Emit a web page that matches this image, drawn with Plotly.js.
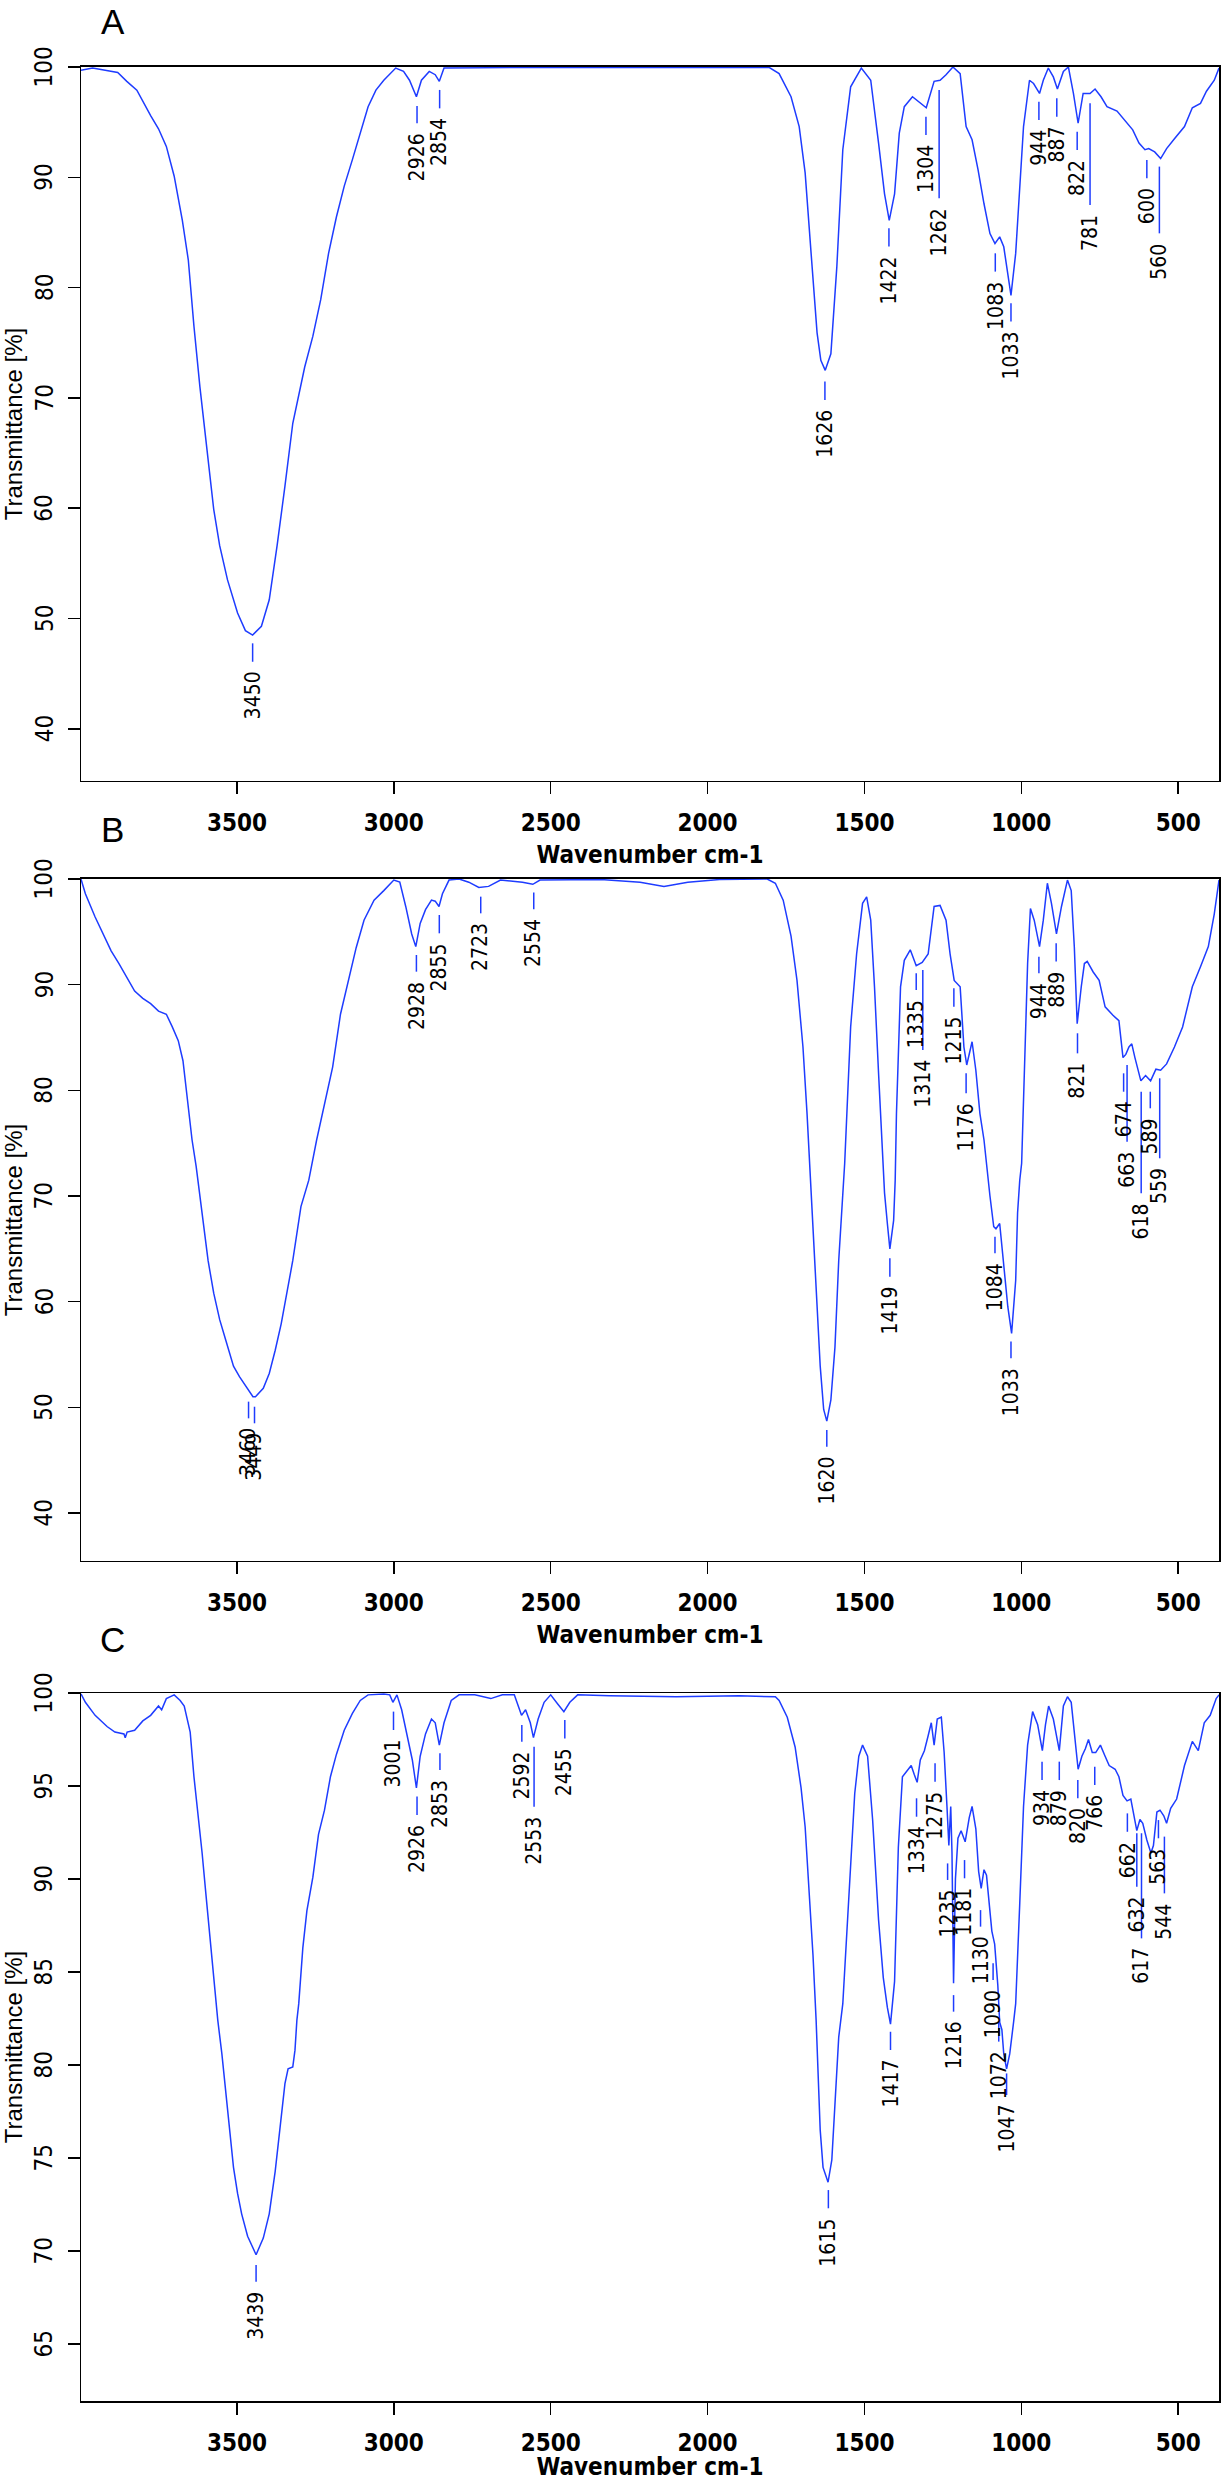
<!DOCTYPE html>
<html>
<head>
<meta charset="utf-8">
<script src="https://cdn.plot.ly/plotly-3.0.1.min.js"></script>
<style>
  body { margin: 0; background: #fff; }
  #myPlot { width: 1223px; height: 2481px; }
</style>
</head>
<body>
<div id="myPlot"></div>
<script>
/* FTIR spectra A, B, C - transmittance vs wavenumber */

// ---- panel A ----
var aWn = [3997,3960,3920,3880,3851,3819,3775,3750,3725,3700,3674,3655,3637,3618,3599,3586,3574,3555,3530,3498,3473,3450,3422,3397,3372,3347,3322,3284,3258,3233,3208,3183,3158,3132,3107,3082,3057,3032,2994,2969,2950,2928,2912,2887,2868,2855,2840,2600,2200,1803,1772,1734,1708,1689,1670,1651,1639,1625,1607,1588,1569,1544,1510,1480,1455,1436,1421,1404,1389,1373,1347,1328,1303,1278,1259,1240,1218,1195,1176,1157,1138,1119,1100,1084,1069,1056,1043,1033,1018,1005,993,974,961,942,930,914,898,885,866,850,834,819,803,781,765,746,727,695,670,645,625,606,594,575,556,537,512,480,455,429,410,385,370];
var aT  = [99.7,99.9,99.7,99.5,98.7,97.9,95.6,94.4,92.8,90.1,86.1,82.5,76.5,71.0,66.2,62.6,59.9,56.6,53.5,50.5,48.9,48.5,49.3,51.7,56.6,62.0,67.7,72.8,75.6,78.9,83.1,86.4,89.2,91.6,94.0,96.4,97.9,98.8,99.9,99.6,98.8,97.3,98.8,99.6,99.3,98.7,99.9,99.95,99.95,99.95,99.4,97.3,94.6,90.4,83.1,75.9,73.4,72.5,74.0,81.9,92.5,98.2,99.9,98.8,93.1,88.5,86.1,88.5,94.0,96.4,97.3,96.9,96.3,98.7,98.8,99.3,100,99.4,94.6,93.4,90.7,87.6,84.9,84.0,84.6,83.7,81.3,79.3,83.1,89.5,94.6,98.8,98.5,97.6,98.8,99.9,99.1,98.0,99.6,100,97.6,94.9,97.6,97.6,98.0,97.3,96.4,96.0,95.2,94.3,93.1,92.5,92.6,92.3,91.7,92.6,93.5,94.6,96.3,96.7,97.8,98.8,99.9];
var aPeaks = ["3450","2926","2854","1626","1422","1304","1262","1083","1033","944","887","822","781","600","560"];
var aTop   = [47.75,96.47,97.92,71.48,85.38,95.50,97.92,83.11,78.58,96.86,97.16,94.14,96.71,91.57,90.97];
var aBot   = [46.08,94.89,96.25,69.82,83.72,93.84,88.10,81.45,76.92,95.20,95.50,92.48,87.49,89.91,84.92];

// ---- panel B ----
var bWn = [3997,3983,3952,3927,3901,3876,3851,3826,3800,3775,3750,3725,3706,3687,3672,3656,3643,3630,3618,3611,3592,3574,3555,3536,3511,3492,3466,3449,3441,3416,3397,3378,3359,3340,3322,3296,3271,3246,3221,3195,3170,3145,3120,3095,3063,3032,3000,2981,2962,2943,2930,2916,2899,2880,2868,2856,2845,2824,2792,2761,2729,2698,2660,2590,2557,2534,2340,2215,2139,2063,1962,1810,1784,1759,1734,1715,1696,1683,1670,1662,1651,1641,1630,1620,1607,1594,1582,1569,1563,1544,1525,1506,1493,1480,1468,1455,1442,1436,1427,1419,1407,1402,1398,1385,1373,1354,1335,1316,1297,1278,1259,1240,1227,1214,1195,1183,1174,1157,1145,1132,1119,1107,1100,1088,1081,1069,1056,1043,1031,1018,1012,1005,999,989,980,971,959,942,930,917,904,888,872,853,841,831,822,809,799,790,771,752,733,708,689,676,667,657,648,638,619,604,588,571,556,537,512,486,455,429,404,385,370];
var bT  = [100,98.6,96.4,94.8,93.2,92.0,90.7,89.4,88.7,88.2,87.5,87.2,86.0,84.7,82.8,78.3,75.3,72.8,69.9,68.4,63.9,60.8,58.3,56.4,53.9,52.9,51.7,51.0,51.0,51.8,53.2,55.4,57.9,61.1,63.9,69.0,71.5,75.3,78.7,82.2,87.2,90.4,93.5,96.1,98.0,98.9,99.9,99.7,97.4,94.8,93.6,95.8,97.1,98.0,97.9,97.4,98.6,99.9,100,99.7,99.2,99.3,99.9,99.7,99.5,99.9,99.95,99.7,99.3,99.7,99.95,100,99.6,98.0,94.6,90.4,84.1,77.8,70.0,65.2,58.9,53.9,49.8,48.7,50.7,55.7,63.9,71.0,73.1,86.0,92.9,97.7,98.3,96.1,89.8,81.6,73.1,70.3,67.4,65.0,67.7,71.5,77.8,89.8,92.3,93.3,91.8,92.1,92.9,97.4,97.5,96.1,92.9,90.4,89.8,84.1,82.4,84.6,81.9,77.8,75.3,71.5,70.0,67.1,66.9,67.4,63.6,59.5,57.0,62.0,68.4,71.5,73.1,84.1,92.0,97.2,96.1,93.6,96.1,99.6,97.7,94.8,97.4,99.9,98.9,93.5,86.3,89.8,92.0,92.2,91.2,90.4,87.9,87.1,86.6,83.1,83.4,84.1,84.4,83.1,80.9,81.4,80.9,82.0,81.9,82.5,84.1,86.0,89.8,91.7,93.6,96.7,99.9];
var bPeaks = ["3460","3449","2928","2855","2723","2554","1620","1419","1335","1314","1215","1176","1084","1033","944","889","821","674","663","618","589","559"];
var bPos   = [3463,3444,2928,2855,2723,2554,1620,1419,1335,1314,1215,1176,1084,1033,944,889,821,674,663,618,589,559];
var bTop   = [50.54,50.06,92.81,96.59,98.33,98.71,47.86,64.10,91.07,91.39,89.65,81.61,66.15,56.22,92.65,93.91,85.40,81.61,82.40,79.87,79.87,81.14];
var bBot   = [48.96,48.49,91.23,94.86,96.75,97.13,46.28,62.37,89.50,83.82,87.92,79.72,64.58,54.64,91.07,92.18,83.50,79.87,75.14,70.25,78.30,73.57];

// ---- panel C ----
var cWn = [3997,3983,3952,3914,3889,3860,3856,3850,3826,3800,3775,3750,3740,3725,3700,3681,3668,3649,3637,3624,3611,3599,3586,3574,3561,3548,3536,3523,3511,3498,3485,3466,3439,3416,3397,3378,3359,3347,3337,3322,3315,3309,3303,3290,3277,3258,3240,3221,3202,3183,3158,3132,3107,3082,3032,3013,3003,2990,2975,2956,2941,2928,2916,2899,2880,2868,2855,2840,2817,2792,2742,2691,2654,2616,2603,2593,2580,2565,2555,2540,2521,2500,2477,2458,2439,2414,2313,2100,1900,1784,1772,1746,1721,1702,1689,1677,1664,1654,1648,1641,1632,1616,1604,1594,1582,1569,1550,1531,1518,1506,1490,1474,1455,1440,1427,1417,1404,1392,1379,1366,1351,1341,1332,1322,1309,1297,1287,1278,1268,1255,1246,1237,1231,1225,1221,1216,1210,1202,1192,1179,1166,1157,1145,1136,1128,1119,1111,1094,1085,1075,1069,1062,1056,1047,1037,1024,1018,1005,993,980,964,948,933,923,913,898,879,866,853,841,828,819,807,796,786,774,763,748,733,720,701,689,676,663,651,642,632,622,613,600,587,579,568,558,546,537,524,505,480,455,436,417,398,379,370];
var cT  = [99.95,99.5,98.8,98.2,97.9,97.8,97.6,97.9,98.0,98.5,98.8,99.3,99.1,99.7,99.9,99.6,99.3,97.9,95.5,93.5,91.4,89.2,86.9,84.6,82.4,80.6,78.5,76.3,74.5,73.1,72.0,70.8,69.8,70.7,72.0,74.3,77.0,79.0,79.8,79.9,80.8,82.4,83.3,86.3,88.3,90.1,92.4,93.7,95.5,96.7,98.0,98.9,99.6,99.9,99.95,99.9,99.5,99.9,99.1,97.5,96.4,94.9,96.6,97.8,98.6,98.4,97.2,98.4,99.6,99.9,99.9,99.7,99.9,99.9,99.3,98.8,99.1,98.4,97.6,98.6,99.5,99.9,99.4,99.0,99.5,99.9,99.85,99.8,99.85,99.8,99.6,98.7,97.1,94.9,92.8,89.5,85.9,82.4,79.7,76.5,74.5,73.7,74.9,78.0,81.5,83.3,89.0,94.6,96.6,97.2,96.6,93.2,87.8,84.7,83.1,82.2,84.5,91.7,95.5,95.8,96.1,95.6,95.2,96.4,96.9,97.7,98.4,97.2,98.6,98.7,96.8,93.9,91.8,93.9,91.4,84.4,90.0,92.2,92.6,92.0,93.3,93.9,92.7,90.4,89.5,90.5,90.2,87.2,86.5,84.3,82.3,81.9,80.6,79.8,80.6,82.4,83.3,88.7,93.9,97.2,99.0,98.3,96.9,98.3,99.3,98.6,96.9,99.3,99.8,99.5,97.2,95.9,96.6,97.0,97.5,96.8,96.8,97.2,96.6,96.1,95.9,95.5,94.5,94.2,94.3,93.4,92.6,93.2,93.0,92.1,91.4,91.8,93.6,93.7,93.4,93.0,93.8,94.3,96.1,97.4,96.9,98.4,98.8,99.7,99.9];
var cPeaks = ["3439","3001","2926","2853","2592","2553","2455","1615","1417","1334","1275","1235","1216","1181","1130","1090","1072","1047","934","879","820","766","662","632","617","563","544"];
var cTop   = [69.25,99.00,94.43,96.76,98.28,97.11,98.55,73.28,81.79,94.34,96.22,90.84,83.76,91.02,88.33,85.47,82.26,79.55,96.31,96.31,95.32,96.04,93.53,92.46,92.46,93.17,92.28];
var cBot   = [68.35,98.01,93.44,95.86,97.38,93.89,97.56,72.30,80.81,93.35,95.23,89.95,82.87,90.04,87.44,84.57,81.26,78.39,95.32,95.32,94.34,95.05,92.54,89.59,86.81,92.19,89.23];

var xTicks = [3500, 3000, 2500, 2000, 1500, 1000, 500];
var yTicksA = [40, 50, 60, 70, 80, 90, 100];
var yTicksC = [65, 70, 75, 80, 85, 90, 95, 100];

var BLUE = "rgb(30,60,255)";
var NARROW = '"Liberation Sans Narrow", "Arial Narrow", "DejaVu Sans Condensed", sans-serif';
var REG = '"Liberation Sans", Arial, sans-serif';

var data = [];
var shapes = [];
var annotations = [];

function addPanel(xa, ya, wn, t, labels, pos, tops, bots, yticks) {
  data.push({x: wn, y: t, xaxis: xa, yaxis: ya, type: "scatter", mode: "lines",
             line: {color: BLUE, width: 1.5}, hoverinfo: "skip"});
  for (var i = 0; i < labels.length; i++) {
    var px = pos ? pos[i] : parseFloat(labels[i]);
    shapes.push({type: "line", xref: xa, yref: ya, x0: px, x1: px, y0: tops[i], y1: bots[i],
                 line: {color: BLUE, width: 1.5}});
    annotations.push({x: px, y: bots[i], xref: xa, yref: ya, text: labels[i], showarrow: false,
                      textangle: -90, xanchor: "center", yanchor: "top", yshift: -8,
                      font: {family: NARROW, size: 21, color: "#000"}});
  }
  // vertical tick labels on the y axis
  for (var j = 0; j < yticks.length; j++) {
    annotations.push({x: -0.0321, y: yticks[j], xref: "paper", yref: ya, text: String(yticks[j]),
                      showarrow: false, textangle: -90, xanchor: "center", yanchor: "middle",
                      font: {family: NARROW, size: 24, color: "#000"}});
  }
}

addPanel("x", "y", aWn, aT, aPeaks, null, aTop, aBot, yTicksA);
addPanel("x2", "y2", bWn, bT, bPeaks, bPos, bTop, bBot, yTicksA);
addPanel("x3", "y3", cWn, cT, cPeaks, null, cTop, cBot, yTicksC);

annotations.push({x: 0.028, y: 1, xref: "paper", yref: "paper", text: "A", showarrow: false,
                  xanchor: "center", yanchor: "top", font: {family: REG, size: 35, color: "#000"}});
annotations.push({x: 0.028, y: 0.66546, xref: "paper", yref: "paper", text: "B", showarrow: false,
                  xanchor: "center", yanchor: "middle", font: {family: REG, size: 35, color: "#000"}});
annotations.push({x: 0.028, y: 0.33898, xref: "paper", yref: "paper", text: "C", showarrow: false,
                  xanchor: "center", yanchor: "middle", font: {family: REG, size: 35, color: "#000"}});

function xAxis(anchor) {
  return {domain: [0, 1], anchor: anchor, range: [3997, 370], autorange: false,
          tickmode: "array", tickvals: xTicks, ticks: "outside", ticklen: 12, tickwidth: 1.5,
          tickcolor: "#000", showline: true, linecolor: "#000", linewidth: 1.5, mirror: true,
          showgrid: false, zeroline: false, ticklabelstandoff: 8,
          tickfont: {family: NARROW, size: 24, color: "#000", weight: "bold"},
          title: {text: "Wavenumber cm-1", standoff: 10,
                  font: {family: NARROW, size: 24, color: "#000", weight: "bold"}}};
}
function yAxis(anchor, dom, rng, vals) {
  return {domain: dom, anchor: anchor, range: rng, autorange: false,
          tickmode: "array", tickvals: vals, ticks: "outside", ticklen: 12,
          tickwidth: 1.5, tickcolor: "#000", showline: true, linecolor: "#000", linewidth: 1.5,
          mirror: true, showgrid: false, zeroline: false, showticklabels: false,
          title: {text: "Transmittance [%]", standoff: 55,
                  font: {family: REG, size: 24, color: "#000"}}};
}

var layout = {
  width: 1223, height: 2481,
  margin: {l: 81, r: 4, t: 0, b: 0},
  paper_bgcolor: "#fff", plot_bgcolor: "#fff",
  showlegend: false,
  xaxis: xAxis("y"),
  yaxis: yAxis("x", [0.68521, 0.97300], [35.27, 100], yTicksA),
  xaxis2: xAxis("y2"),
  yaxis2: yAxis("x2", [0.37082, 0.64571], [35.46, 100], yTicksA),
  xaxis3: xAxis("y3"),
  yaxis3: yAxis("x3", [0.03224, 0.31761], [61.94, 100], yTicksC),
  shapes: shapes,
  annotations: annotations
};

Plotly.newPlot("myPlot", data, layout, {staticPlot: true, displayModeBar: false});
</script>
</body>
</html>
